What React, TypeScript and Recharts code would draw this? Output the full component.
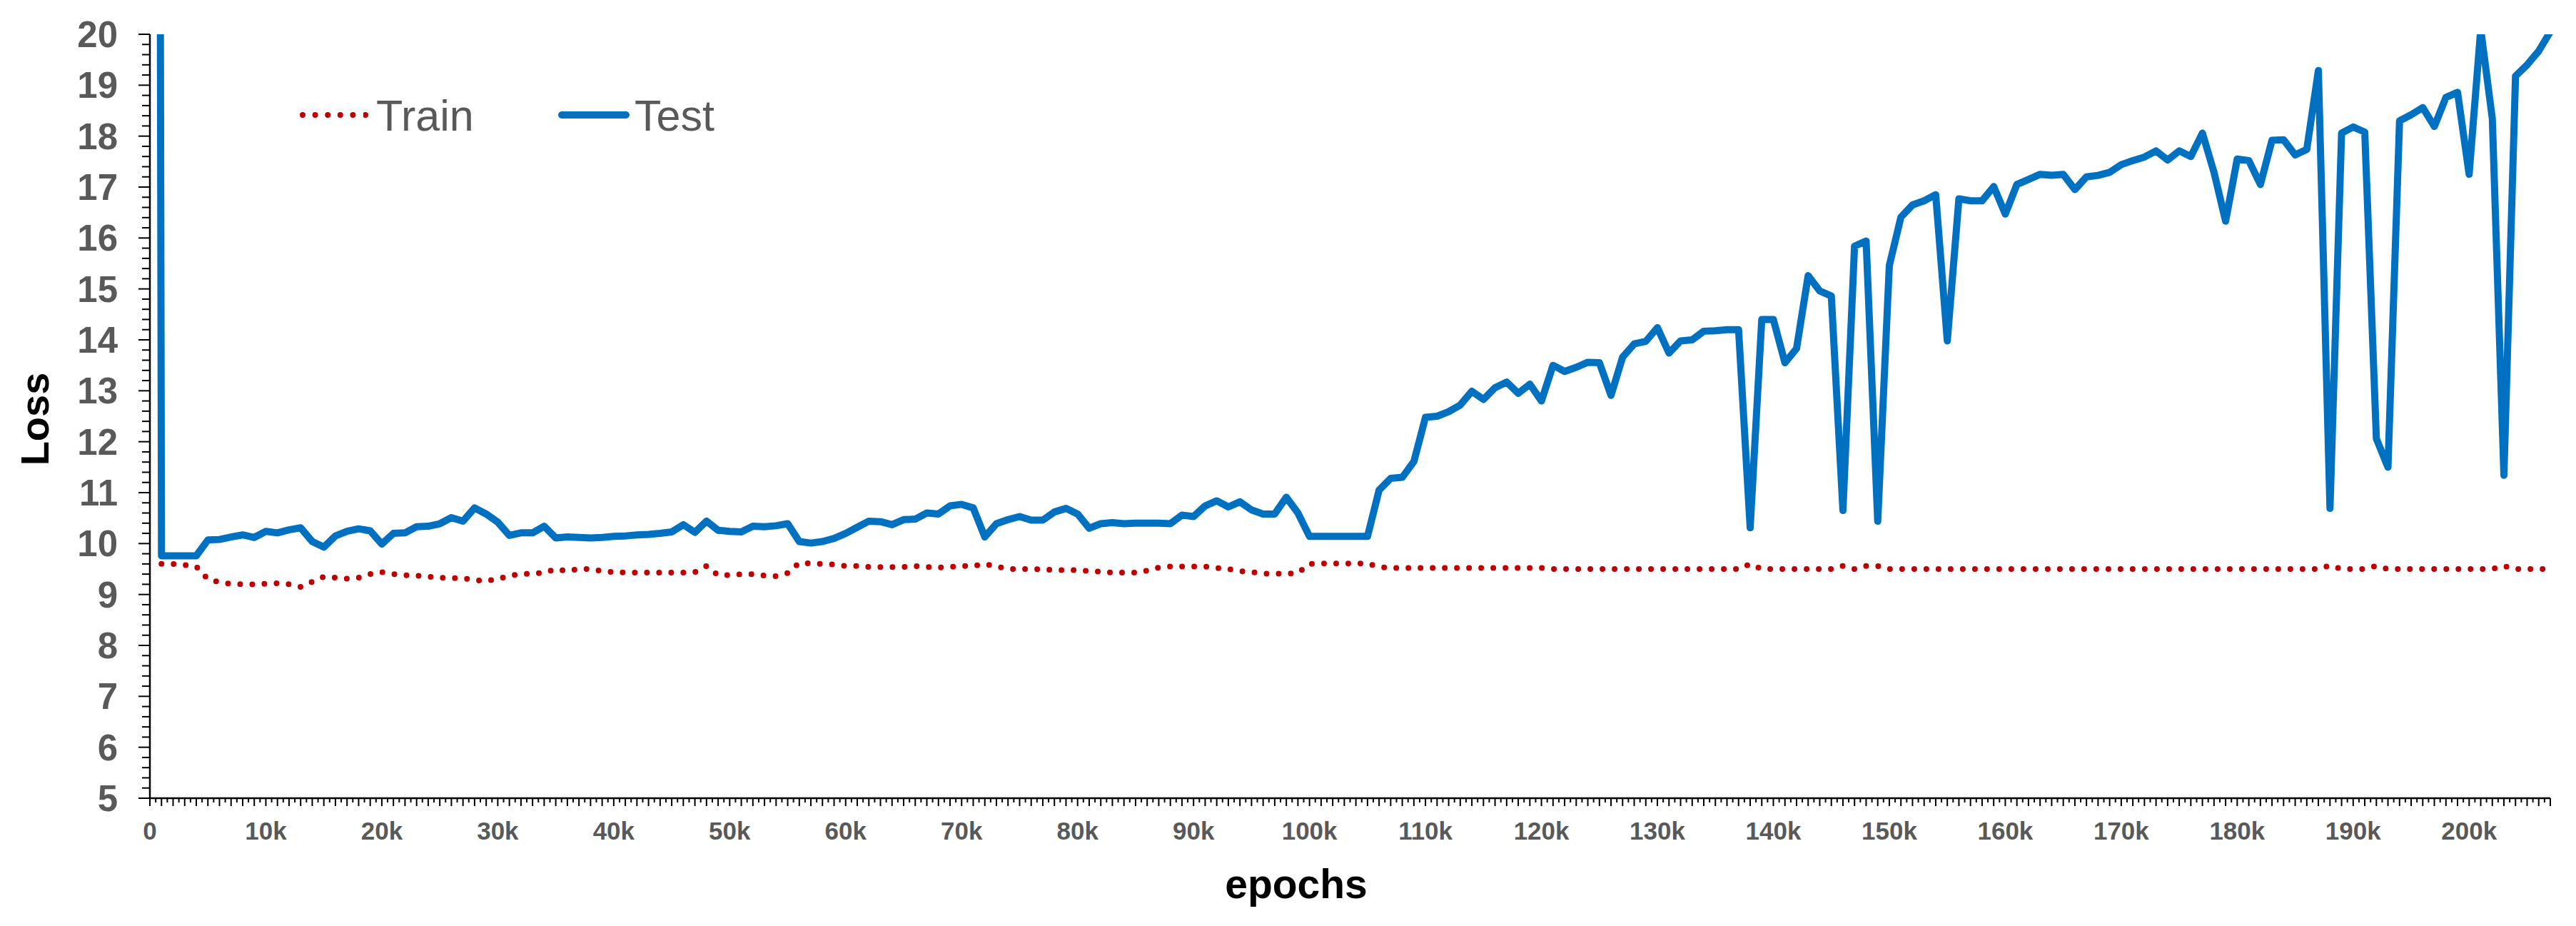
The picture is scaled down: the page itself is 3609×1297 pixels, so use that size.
import { LineChart, Line, XAxis, YAxis, Legend, Label } from "recharts";

// epochs are logged every 1k, starting at 0 (train has no value at 0)
const FIRST_EPOCH = 0;
const EPOCH_STEP = 1000;

const trainLoss = [
  null,
  9.6, 9.6, 9.58, 9.55, 9.3, 9.24, 9.21, 9.2, 9.2, 9.21,
  9.22, 9.2, 9.15, 9.25, 9.35, 9.33, 9.31, 9.33, 9.4, 9.44,
  9.4, 9.38, 9.37, 9.35, 9.33, 9.32, 9.32, 9.28, 9.27, 9.3,
  9.37, 9.4, 9.41, 9.43, 9.5, 9.46, 9.5, 9.5, 9.46, 9.44,
  9.43, 9.43, 9.43, 9.43, 9.43, 9.43, 9.44, 9.56, 9.38, 9.38,
  9.4, 9.4, 9.37, 9.36, 9.42, 9.62, 9.61, 9.6, 9.59, 9.56,
  9.56, 9.54, 9.54, 9.54, 9.54, 9.56, 9.54, 9.53, 9.54, 9.56,
  9.56, 9.6, 9.55, 9.5, 9.5, 9.5, 9.49, 9.48, 9.48, 9.48,
  9.46, 9.45, 9.43, 9.43, 9.43, 9.47, 9.53, 9.55, 9.55, 9.55,
  9.55, 9.52, 9.5, 9.46, 9.44, 9.41, 9.41, 9.41, 9.42, 9.6,
  9.61, 9.61, 9.61, 9.61, 9.61, 9.54, 9.52, 9.52, 9.52, 9.52,
  9.52, 9.52, 9.52, 9.52, 9.52, 9.52, 9.52, 9.52, 9.52, 9.52,
  9.5, 9.5, 9.5, 9.5, 9.5, 9.5, 9.5, 9.5, 9.5, 9.5,
  9.5, 9.5, 9.5, 9.5, 9.5, 9.5, 9.5, 9.6, 9.5, 9.5,
  9.5, 9.5, 9.5, 9.5, 9.5, 9.56, 9.5, 9.56, 9.56, 9.5,
  9.5, 9.5, 9.5, 9.5, 9.5, 9.5, 9.5, 9.5, 9.5, 9.5,
  9.5, 9.5, 9.5, 9.5, 9.5, 9.5, 9.5, 9.5, 9.5, 9.5,
  9.5, 9.5, 9.5, 9.5, 9.5, 9.5, 9.5, 9.5, 9.5, 9.5,
  9.5, 9.5, 9.5, 9.5, 9.5, 9.5, 9.5, 9.57, 9.5, 9.5,
  9.5, 9.56, 9.5, 9.5, 9.5, 9.5, 9.5, 9.5, 9.5, 9.5,
  9.5, 9.5, 9.56, 9.5, 9.5, 9.5, 9.5,
];

const testLoss = [
  120,
  9.76, 9.76, 9.76, 9.76, 10.07, 10.08, 10.13, 10.17, 10.12, 10.24,
  10.21, 10.27, 10.31, 10.04, 9.93, 10.15, 10.24, 10.29, 10.25, 9.99,
  10.2, 10.21, 10.33, 10.34, 10.39, 10.51, 10.44, 10.7, 10.58, 10.42,
  10.16, 10.21, 10.21, 10.34, 10.11, 10.13, 10.12, 10.11, 10.12, 10.14,
  10.15, 10.17, 10.18, 10.2, 10.23, 10.37, 10.22, 10.44, 10.26, 10.24,
  10.23, 10.34, 10.33, 10.35, 10.39, 10.04, 10.01, 10.04, 10.1, 10.2,
  10.32, 10.44, 10.43, 10.37, 10.47, 10.48, 10.6, 10.58, 10.74, 10.77,
  10.7, 10.13, 10.39, 10.47, 10.53, 10.46, 10.46, 10.62, 10.69, 10.58,
  10.3, 10.39, 10.41, 10.39, 10.4, 10.4, 10.4, 10.39, 10.56, 10.53,
  10.74, 10.84, 10.72, 10.82, 10.66, 10.58, 10.58, 10.91, 10.6, 10.14,
  10.14, 10.14, 10.14, 10.14, 10.14, 11.05, 11.28, 11.3, 11.61, 12.48,
  12.5, 12.59, 12.72, 12.99, 12.83, 13.06, 13.17, 12.95, 13.13, 12.8,
  13.5, 13.38, 13.46, 13.56, 13.55, 12.91, 13.66, 13.92, 13.97, 14.24,
  13.74, 13.98, 14.0, 14.17, 14.18, 14.2, 14.2, 10.31, 14.4, 14.4,
  13.55, 13.83, 15.26, 14.96, 14.86, 10.65, 15.84, 15.94, 10.44, 15.46,
  16.41, 16.65, 16.73, 16.85, 13.98, 16.77, 16.73, 16.73, 17.01, 16.47,
  17.05, 17.15, 17.25, 17.23, 17.25, 16.95, 17.2, 17.23, 17.29, 17.44,
  17.52, 17.59, 17.71, 17.53, 17.71, 17.6, 18.06, 17.29, 16.33, 17.55,
  17.52, 17.05, 17.92, 17.93, 17.63, 17.74, 19.29, 10.69, 18.06, 18.18,
  18.08, 12.06, 11.5, 18.3, 18.42, 18.56, 18.19, 18.76, 18.86, 17.25,
  20.1, 18.34, 11.34, 19.18, 19.4, 19.67, 20.05,
];

const xLabelTicks = [
  0, 10000, 20000, 30000, 40000, 50000, 60000, 70000, 80000, 90000, 100000,
  110000, 120000, 130000, 140000, 150000, 160000, 170000, 180000, 190000, 200000,
];
const yLabelTicks = [5, 6, 7, 8, 9, 10, 11, 12, 13, 14, 15, 16, 17, 18, 19, 20];

const X_MAX = 207000;
const X_MINOR_STEP = 500;
const Y_MINOR_STEP = 0.2;

const W = 3609;
const H = 1297;
const PLOT_LEFT = 210;
const PLOT_BOTTOM = 1118;
const FONT = "'Liberation Sans', Arial, sans-serif";
const GREY = "#595959";
const RED = "#C00000";
const BLUE = "#0070C0";

const rows = testLoss.map((t, i) => ({
  epoch: FIRST_EPOCH + i * EPOCH_STEP,
  train: trainLoss[i],
  test: t,
}));

const xTicks: number[] = [];
for (let v = 0; v <= X_MAX; v += X_MINOR_STEP) xTicks.push(v);
const yTicks: number[] = [];
for (let i = 0; i <= (20 - 5) / Y_MINOR_STEP; i++) yTicks.push(+(5 + i * Y_MINOR_STEP).toFixed(1));

const fmtEpoch = (v: number) => (v === 0 ? "0" : `${v / 1000}k`);

const XTick = (props: any) => {
  const { x, payload } = props;
  const v = payload.value as number;
  const major = v % 1000 === 0;
  return (
    <g>
      <line x1={x} x2={x} y1={PLOT_BOTTOM} y2={PLOT_BOTTOM + (major ? 11 : 6)} stroke="#000" strokeWidth={2} />
      {xLabelTicks.includes(v) && (
        <text x={x} y={PLOT_BOTTOM + 58} textAnchor="middle" fill={GREY} fontSize={35} fontWeight="bold" fontFamily={FONT}>
          {fmtEpoch(v)}
        </text>
      )}
    </g>
  );
};

const YTick = (props: any) => {
  const { y, payload } = props;
  const v = payload.value as number;
  const labeled = yLabelTicks.includes(v);
  return (
    <g>
      <line x1={PLOT_LEFT - (labeled ? 16 : 11)} x2={PLOT_LEFT} y1={y} y2={y} stroke="#000" strokeWidth={2} />
      {labeled && (
        <text x={165} y={y + 18} textAnchor="end" fill={GREY} fontSize={51} fontWeight="bold" fontFamily={FONT}>
          {v}
        </text>
      )}
    </g>
  );
};

const renderLegend = () => (
  <svg width={1100} height={250}>
    <line x1={424} x2={512} y1={161} y2={161} stroke={RED} strokeWidth={8} strokeDasharray="0 17.6" strokeLinecap="round" />
    <text x={527} y={183} fill={GREY} fontSize={61} fontFamily={FONT}>Train</text>
    <line x1={787} x2={877} y1={161} y2={161} stroke={BLUE} strokeWidth={10} strokeLinecap="round" />
    <text x={889} y={183} fill={GREY} fontSize={61} fontFamily={FONT}>Test</text>
  </svg>
);

export default function App() {
  return (
    <div style={{ position: "absolute", left: 0, top: 0, width: W, height: H, background: "#fff" }}>
      <LineChart
        width={W}
        height={H}
        data={rows}
        margin={{ top: 48, right: 36, left: 60, bottom: 79 }}
        style={{ fontFamily: FONT }}
      >
        <XAxis
          dataKey="epoch"
          type="number"
          domain={[0, X_MAX]}
          ticks={xTicks}
          interval={0}
          tick={<XTick />}
          tickLine={false}
          axisLine={{ stroke: "#000", strokeWidth: 2.5 }}
          height={100}
        >
          <Label
            content={() => (
              <text x={1816} y={1258} textAnchor="middle" fontSize={57} fontWeight="bold" fill="#000" fontFamily={FONT}>
                epochs
              </text>
            )}
          />
        </XAxis>
        <YAxis
          type="number"
          domain={[5, 20]}
          allowDataOverflow
          ticks={yTicks}
          interval={0}
          tick={<YTick />}
          tickLine={false}
          axisLine={{ stroke: "#000", strokeWidth: 2.5 }}
          width={150}
        >
          <Label
            content={() => (
              <text
                x={68}
                y={587}
                transform="rotate(-90 68 587)"
                textAnchor="middle"
                fontSize={56}
                fontWeight="bold"
                fill="#000"
                fontFamily={FONT}
              >
                Loss
              </text>
            )}
          />
        </YAxis>
        <Legend
          layout="horizontal"
          verticalAlign="middle"
          align="center"
          content={renderLegend}
          wrapperStyle={{ left: 0, top: 0, width: 1100, height: 250 }}
        />
        <Line
          dataKey="train"
          name="Train"
          type="linear"
          stroke={RED}
          strokeWidth={8}
          strokeDasharray="0 17"
          strokeLinecap="round"
          dot={false}
          activeDot={false}
          isAnimationActive={false}
        />
        <Line
          dataKey="test"
          name="Test"
          type="linear"
          stroke={BLUE}
          strokeWidth={10}
          strokeLinejoin="round"
          dot={false}
          activeDot={false}
          isAnimationActive={false}
        />
      </LineChart>
    </div>
  );
}
